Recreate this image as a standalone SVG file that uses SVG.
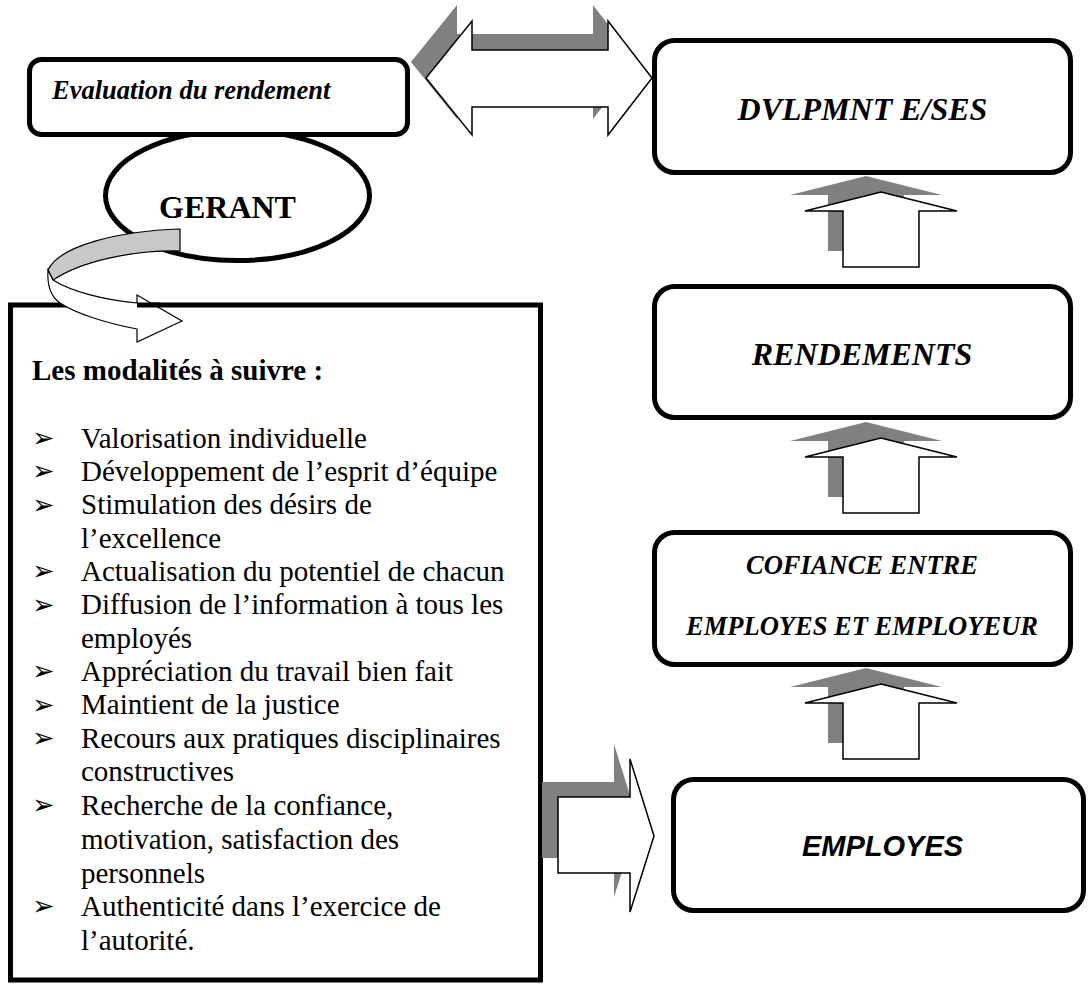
<svg xmlns="http://www.w3.org/2000/svg" width="1088" height="985" viewBox="0 0 1088 985">
<style>
.box{fill:#fff;stroke:#000;stroke-width:5}
.arr{fill:#fff;stroke:#000;stroke-width:1.5;stroke-linejoin:miter}
.shd{fill:#808080;stroke:none}
.serif{font-family:"Liberation Serif","Times New Roman",serif}
.sans{font-family:"Liberation Sans",Arial,sans-serif}
.bi{font-weight:bold;font-style:italic}
.li{font-family:"Liberation Serif","Times New Roman",serif;font-size:29px;fill:#000}
.bul{font-family:"DejaVu Sans",sans-serif;font-size:27px;fill:#000}
</style>
<rect width="1088" height="985" fill="#fff"/>
<defs>
<polygon id="up" points="881,0 957,19 919,19 919,75 843,75 843,19 805,19"/>
</defs>

<g id="gerant">
<ellipse cx="237.5" cy="195.5" rx="132" ry="65" class="box"/>
<text x="227.5" y="218" text-anchor="middle" class="serif" font-weight="bold" font-size="32">GERANT</text>
</g>

<g id="evaluation">
<rect x="29.5" y="59.5" width="378" height="75" rx="12" class="box"/>
<text x="52" y="99" class="serif bi" font-size="26.5">Evaluation du rendement</text>
</g>

<g id="modalites">
<rect x="10.5" y="305" width="530" height="675" class="box"/>
<text x="32" y="380" class="li" font-weight="bold">Les modalités à suivre :</text>
<g class="bul">
<text x="32" y="447">➢</text>
<text x="32" y="480.3">➢</text>
<text x="32" y="513.7">➢</text>
<text x="32" y="580.3">➢</text>
<text x="32" y="613.7">➢</text>
<text x="32" y="680.3">➢</text>
<text x="32" y="713.7">➢</text>
<text x="32" y="747">➢</text>
<text x="32" y="813.7">➢</text>
<text x="32" y="914.7">➢</text>
</g>
<text x="81" y="447.5" class="li">Valorisation individuelle</text>
<text x="81" y="480.8" class="li">Développement de l’esprit d’équipe</text>
<text x="81" y="514.2" class="li">Stimulation des désirs de</text>
<text x="81" y="547.5" class="li">l’excellence</text>
<text x="81" y="580.8" class="li">Actualisation du potentiel de chacun</text>
<text x="81" y="614.2" class="li">Diffusion de l’information à tous les</text>
<text x="81" y="647.5" class="li">employés</text>
<text x="81" y="680.8" class="li">Appréciation du travail bien fait</text>
<text x="81" y="714.2" class="li">Maintient de la justice</text>
<text x="81" y="747.5" class="li">Recours aux pratiques disciplinaires</text>
<text x="81" y="781.2" class="li">constructives</text>
<text x="81" y="815" class="li">Recherche de la confiance,</text>
<text x="81" y="848.8" class="li">motivation, satisfaction des</text>
<text x="81" y="882.5" class="li">personnels</text>
<text x="81" y="916.2" class="li">Authenticité dans l’exercice de</text>
<text x="81" y="950" class="li">l’autorité.</text>
</g>

<g id="dvlpmnt">
<rect x="654.5" y="40.5" width="416" height="132" rx="20" class="box"/>
<text x="862.5" y="120" text-anchor="middle" class="serif bi" font-size="32">DVLPMNT E/SES</text>
</g>

<g id="rendements">
<rect x="654.5" y="286.5" width="416" height="131" rx="20" class="box"/>
<text x="862" y="365" text-anchor="middle" class="serif bi" font-size="32">RENDEMENTS</text>
</g>

<g id="cofiance">
<rect x="654.5" y="532.5" width="416" height="132" rx="20" class="box"/>
<text x="862" y="574" text-anchor="middle" class="serif bi" font-size="26.5">COFIANCE ENTRE</text>
<text x="862" y="635" text-anchor="middle" class="serif bi" font-size="26.5">EMPLOYES ET EMPLOYEUR</text>
</g>

<g id="employes">
<rect x="673.5" y="779.5" width="410" height="131" rx="20" class="box"/>
<text x="882.5" y="856" text-anchor="middle" class="sans bi" font-size="29">EMPLOYES</text>
</g>

<g id="connectors">
<!-- double arrow evaluation <-> dvlpmnt -->
<polygon class="shd" points="411,62 457,5 457,34 593,34 593,5 637,62 593,119 593,91 457,91 457,119"/>
<polygon class="arr" points="426,78 472,21 472,50 608,50 608,21 652,78 608,135 608,107 472,107 472,135"/>
<!-- up arrows -->
<use href="#up" class="shd" transform="translate(-15,176)"/>
<use href="#up" class="arr" transform="translate(0,192)"/>
<use href="#up" class="shd" transform="translate(-15,422)"/>
<use href="#up" class="arr" transform="translate(0,438)"/>
<use href="#up" class="shd" transform="translate(-15,668)"/>
<use href="#up" class="arr" transform="translate(0,684)"/>
<!-- right arrow to employes -->
<polygon class="shd" points="542,782 614,782 614,744 638,821 614,897 614,858 542,858"/>
<polygon class="arr" points="558,797 630,797 630,759 654,836 630,912 630,873 558,873"/>
<!-- curved arrow gerant -> modalites -->
<path d="M180,229 C120,231 60,245 48,270 L53,280 C80,262 130,250 180,251 Z" fill="#c8c8c8" stroke="#000" stroke-width="1.2" stroke-linejoin="round"/>
<path d="M48,270 C47,285 50,296 60,303 C75,313 105,323 137,329 L137,342 L182,321 L137,295 L137,303 C105,300 72,292 53,280 Z" fill="#fff" stroke="#000" stroke-width="1.2" stroke-linejoin="miter"/>
<line x1="137" y1="305" x2="160" y2="305" stroke="#000" stroke-width="5"/>
</g>
</svg>
